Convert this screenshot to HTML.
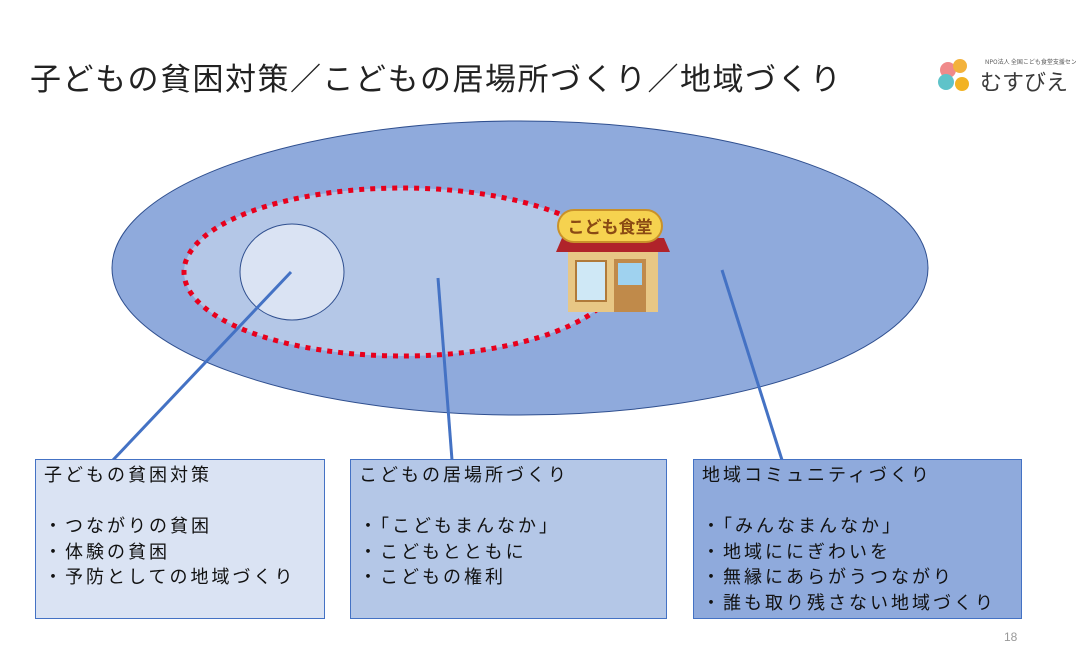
<!DOCTYPE html>
<html><head><meta charset="utf-8"><style>
body{margin:0;width:1076px;height:666px;background:#fff;overflow:hidden;position:relative;font-family:"Liberation Sans","Noto Sans CJK JP",sans-serif;}
.t{position:absolute;left:30px;top:54px;font-size:31px;color:#222;letter-spacing:1.5px;white-space:nowrap}
.box{position:absolute;top:459px;height:160px;box-sizing:border-box;border:1.5px solid #4472c4;font-size:18px;line-height:25.5px;padding:3px 8px;color:#111;white-space:nowrap;letter-spacing:3px}
</style></head><body>
<div class="t">子どもの貧困対策／こどもの居場所づくり／地域づくり</div>
<svg width="1076" height="666" style="position:absolute;left:0;top:0">
<ellipse cx="520" cy="268" rx="408" ry="147" fill="#8faadc" stroke="#2f4f8f" stroke-width="1"/>
<ellipse cx="402" cy="272" rx="218" ry="84" fill="#b4c7e7"/>
<ellipse cx="402" cy="272" rx="218" ry="84" fill="none" stroke="#e8001c" stroke-width="5" stroke-dasharray="5,6"/>
<ellipse cx="292" cy="272" rx="52" ry="48" fill="#dae3f3" stroke="#2f4f8f" stroke-width="1"/>
<rect x="568" y="252" width="90" height="60" fill="#e8c785"/>
<path d="M556 252 L562 238 L664 238 L670 252 Z" fill="#b0232a"/>
<rect x="558" y="210" width="104" height="32" rx="16" fill="#f6d24f" stroke="#c9912a" stroke-width="2"/>
<text x="610" y="233" font-size="17" font-weight="bold" fill="#8a4a14" text-anchor="middle" font-family="Noto Sans CJK JP,sans-serif">こども食堂</text>
<rect x="576" y="261" width="30" height="40" fill="#cfe8f6" stroke="#b07a3a" stroke-width="2"/>
<rect x="614" y="259" width="32" height="53" fill="#c08a4a"/>
<rect x="618" y="263" width="24" height="22" fill="#9fd2ef"/>
<line x1="291" y1="272" x2="113" y2="460" stroke="#4472c4" stroke-width="3"/>
<line x1="438" y1="278" x2="452" y2="460" stroke="#4472c4" stroke-width="3"/>
<line x1="722" y1="270" x2="782" y2="460" stroke="#4472c4" stroke-width="3"/>
<circle cx="948" cy="70" r="8" fill="#f08a8a"/><circle cx="960" cy="66" r="7" fill="#f3b23c"/>
<circle cx="946" cy="82" r="8" fill="#5fc3c9"/><circle cx="962" cy="84" r="7" fill="#f2b324"/>
<text x="985" y="64" font-size="6" fill="#555" font-family="Noto Sans CJK JP,sans-serif">NPO法人 全国こども食堂支援センター</text>
<text x="980" y="90" font-size="22" fill="#3a3a3a" font-family="Noto Sans CJK JP,sans-serif">むすびえ</text>
<text x="1004" y="641" font-size="12" fill="#999">18</text>
</svg>
<div class="box" style="left:35px;width:290px;background:#dae3f3">子どもの貧困対策<br><br>・つながりの貧困<br>・体験の貧困<br>・予防としての地域づくり</div>
<div class="box" style="left:350px;width:317px;background:#b4c7e7">こどもの居場所づくり<br><br>・「こどもまんなか」<br>・こどもとともに<br>・こどもの権利</div>
<div class="box" style="left:693px;width:329px;background:#8faadc">地域コミュニティづくり<br><br>・「みんなまんなか」<br>・地域ににぎわいを<br>・無縁にあらがうつながり<br>・誰も取り残さない地域づくり</div>
</body></html>
